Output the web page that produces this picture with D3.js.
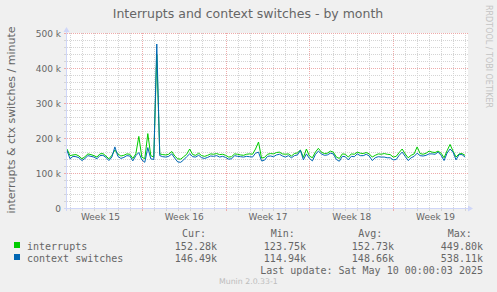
<!DOCTYPE html>
<html>
<head>
<meta charset="utf-8">
<script src="https://cdn.jsdelivr.net/npm/d3@7"></script>
<style>
  body { margin: 0; background: #f0f0f0; }
  svg { display: block; }
</style>
</head>
<body>
<svg width="497" height="292"></svg>
<script>
// values in k, one point every 6 hours starting Apr 7 18:00
let interrupts = [
  170, 151, 153, 154, 150, 142, 148, 156, 154, 151, 147, 156, 157, 150, 142, 152, 167, 156, 150, 152,
  156, 155, 143, 156, 206, 147, 142, 214, 151, 147, 440, 156, 154, 153, 155, 163, 150, 142, 141, 148,
  155, 170, 154, 152, 158, 151, 149, 152, 156, 155, 157, 154, 155, 152, 147, 148, 156, 155, 153, 152,
  155, 156, 155, 170, 190, 144, 146, 155, 157, 156, 160, 161, 156, 155, 156, 150, 157, 159, 167, 146,
  170, 150, 145, 161, 172, 161, 157, 158, 164, 161, 147, 143, 156, 155, 147, 156, 155, 161, 158, 157,
  160, 156, 147, 152, 156, 155, 157, 155, 154, 147, 149, 160, 170, 156, 145, 152, 156, 176, 157, 155,
  158, 164, 161, 160, 164, 158, 145, 165, 183, 164, 147, 156, 157, 152
];
let ctxSwitches = [
  166, 142, 149, 148, 145, 137, 143, 151, 149, 147, 142, 151, 152, 146, 137, 147, 176, 149, 143, 146,
  151, 150, 136, 151, 160, 139, 132, 174, 142, 140, 470, 151, 148, 147, 149, 156, 144, 133, 132, 139,
  148, 156, 148, 147, 152, 145, 143, 146, 150, 149, 151, 147, 149, 146, 141, 142, 151, 149, 148, 147,
  149, 148, 147, 158, 161, 136, 138, 149, 150, 148, 153, 155, 150, 147, 151, 145, 151, 153, 166, 139,
  156, 143, 136, 154, 164, 156, 152, 153, 158, 156, 140, 135, 149, 148, 139, 149, 148, 156, 151, 151,
  155, 150, 137, 145, 148, 147, 147, 145, 145, 139, 140, 152, 161, 149, 137, 145, 149, 158, 151, 150,
  152, 156, 156, 155, 161, 152, 137, 158, 170, 161, 139, 154, 154, 147
];
let seriesNames = ["interrupts", "context switches"];
let seriesColors = ["#00cc00", "#0066b3"];
let weekLabels = ["Week 15", "Week 16", "Week 17", "Week 18", "Week 19"];
let yTickValues = [0, 100000, 200000, 300000, 400000, 500000];
let statHeaders = ["Cur:", "Min:", "Avg:", "Max:"];
let interruptStats = ["152.28k", "123.75k", "152.73k", "449.80k"];
let ctxStats = ["146.49k", "114.94k", "148.66k", "538.11k"];

let startTime = Date.UTC(2025, 3, 7, 18);
let stepMs = 6 * 3600 * 1000;

let svg = d3.select("svg");
let sans = "DejaVu Sans, sans-serif";
let mono = "DejaVu Sans Mono, monospace";
let fontColor = "#666";
let axisColor = "#cfd6f8";

let x = d3.scaleUtc()
  .domain([new Date(startTime), new Date(Date.UTC(2025, 4, 11, 8))])
  .range([67, 469]);
let y = d3.scaleLinear().domain([0, 500000]).range([208, 33]);
let px = function(v) { return Math.round(v) + 0.5; };

// canvas
svg.append("rect").attr("x", 67).attr("y", 33).attr("width", 401).attr("height", 176).attr("fill", "#fff");

// grid
let grid = svg.append("g");
let days = d3.utcDay.range(x.domain()[0], x.domain()[1]);
let mondays = d3.utcMonday.range(x.domain()[0], x.domain()[1]);
let isMonday = function(d) { return d.getUTCDay() == 1; };
let minorY = d3.range(0, 500001, 20000);

grid.selectAll(".vgrid")
  .data(days)
  .enter()
  .append("line")
  .attr("x1", function(d) { return px(x(d)); })
  .attr("x2", function(d) { return px(x(d)); })
  .attr("y1", 33)
  .attr("y2", 208)
  .attr("stroke", function(d) { return isMonday(d) ? "#eeaaaa" : "#d4d4d4"; })
  .attr("stroke-dasharray", "1,1");
grid.selectAll(".vtick")
  .data(days)
  .enter()
  .append("line")
  .attr("x1", function(d) { return px(x(d)); })
  .attr("x2", function(d) { return px(x(d)); })
  .attr("y1", 208)
  .attr("y2", 211)
  .attr("stroke", function(d) { return isMonday(d) ? "#eeaaaa" : "#d4d4d4"; });

grid.selectAll(".hgrid")
  .data(minorY)
  .enter()
  .append("line")
  .attr("x1", 67)
  .attr("x2", 468)
  .attr("y1", function(d) { return px(y(d)); })
  .attr("y2", function(d) { return px(y(d)); })
  .attr("stroke", function(d) { return d % 100000 == 0 ? "#eeaaaa" : "#d4d4d4"; })
  .attr("stroke-dasharray", "1,1");
grid.selectAll(".htick")
  .data(minorY)
  .enter()
  .append("line")
  .attr("x1", 64)
  .attr("x2", 67)
  .attr("y1", function(d) { return px(y(d)); })
  .attr("y2", function(d) { return px(y(d)); })
  .attr("stroke", function(d) { return d % 100000 == 0 ? "#eeaaaa" : "#d4d4d4"; });

// data lines
let line = d3.line()
  .x(function(d, i) { return x(new Date(startTime + i * stepMs)); })
  .y(function(d) { return y(d * 1000) + 0.5; });
[interrupts, ctxSwitches].forEach(function(s, i) {
  svg.append("path")
    .datum(s)
    .attr("d", line)
    .attr("fill", "none")
    .attr("stroke", seriesColors[i])
    .attr("stroke-width", 1);
});

// axes lines + arrows
svg.append("line").attr("x1", 64).attr("x2", 469).attr("y1", 208.5).attr("y2", 208.5).attr("stroke", axisColor);
svg.append("path").attr("d", "M468,205.5L473,208.5L468,211.5Z").attr("fill", axisColor);
svg.append("line").attr("x1", 66.5).attr("x2", 66.5).attr("y1", 211).attr("y2", 31).attr("stroke", axisColor);
svg.append("path").attr("d", "M63.5,32L66.5,27L69.5,32Z").attr("fill", axisColor);

// y axis labels
let yAxis = svg.append("g")
  .attr("transform", "translate(66.5,0.5)")
  .call(d3.axisLeft(y).tickValues(yTickValues).tickSize(0).tickPadding(5.5)
    .tickFormat(function(d) { return d == 0 ? "0" : d / 1000 + " k"; }));
yAxis.select(".domain").remove();
yAxis.selectAll("text").attr("fill", fontColor).attr("font-family", sans).attr("font-size", 9);

// x axis labels (mid-week)
let weekMids = mondays.map(function(d) { return d3.utcHour.offset(d, -84); });
weekMids.push(d3.utcHour.offset(mondays[mondays.length - 1], 84));
let xAxis = svg.append("g")
  .attr("transform", "translate(0,208.5)")
  .call(d3.axisBottom(x).tickValues(weekMids).tickSize(0).tickPadding(5)
    .tickFormat(function(d, i) { return weekLabels[i]; }));
xAxis.select(".domain").remove();
xAxis.selectAll("text").attr("fill", fontColor).attr("font-family", sans).attr("font-size", 9);

// titles
svg.append("text")
  .attr("x", 248).attr("y", 18.3)
  .attr("text-anchor", "middle")
  .attr("font-family", sans).attr("font-size", 12.5)
  .attr("fill", fontColor)
  .text("Interrupts and context switches - by month");
svg.append("text")
  .attr("transform", "translate(14.5,120) rotate(-90)")
  .attr("text-anchor", "middle")
  .attr("font-family", sans).attr("font-size", 11)
  .attr("fill", fontColor)
  .text("interrupts & ctx switches / minute");
svg.append("text")
  .attr("transform", "translate(486,5) rotate(90)")
  .attr("font-family", sans).attr("font-size", 8)
  .attr("fill", "#c4c4c4")
  .text("RRDTOOL / TOBI OETIKER");

// legend
let headerX = [182, 270.7, 358.3, 447.7];
let valueEnd = [217, 306, 394, 483];
statHeaders.forEach(function(h, i) {
  svg.append("text").attr("x", headerX[i]).attr("y", 237)
    .attr("font-family", mono).attr("font-size", 10).attr("fill", fontColor).text(h);
});
[interruptStats, ctxStats].forEach(function(stats, r) {
  let rowY = 249.5 + r * 12;
  svg.append("rect").attr("x", 14).attr("y", rowY - 7.5).attr("width", 6).attr("height", 6)
    .attr("fill", seriesColors[r]);
  svg.append("text").attr("x", 27).attr("y", rowY)
    .attr("font-family", mono).attr("font-size", 10).attr("fill", fontColor).text(seriesNames[r]);
  stats.forEach(function(v, i) {
    svg.append("text").attr("x", valueEnd[i]).attr("y", rowY).attr("text-anchor", "end")
      .attr("font-family", mono).attr("font-size", 10).attr("fill", fontColor).text(v);
  });
});
svg.append("text").attr("x", 483).attr("y", 273.5).attr("text-anchor", "end")
  .attr("font-family", mono).attr("font-size", 10).attr("fill", fontColor)
  .text("Last update: Sat May 10 00:00:03 2025");
svg.append("text").attr("x", 219).attr("y", 283.5)
  .attr("font-family", sans).attr("font-size", 7.8).attr("fill", "#bdbdbd")
  .text("Munin 2.0.33-1");
</script>
</body>
</html>
